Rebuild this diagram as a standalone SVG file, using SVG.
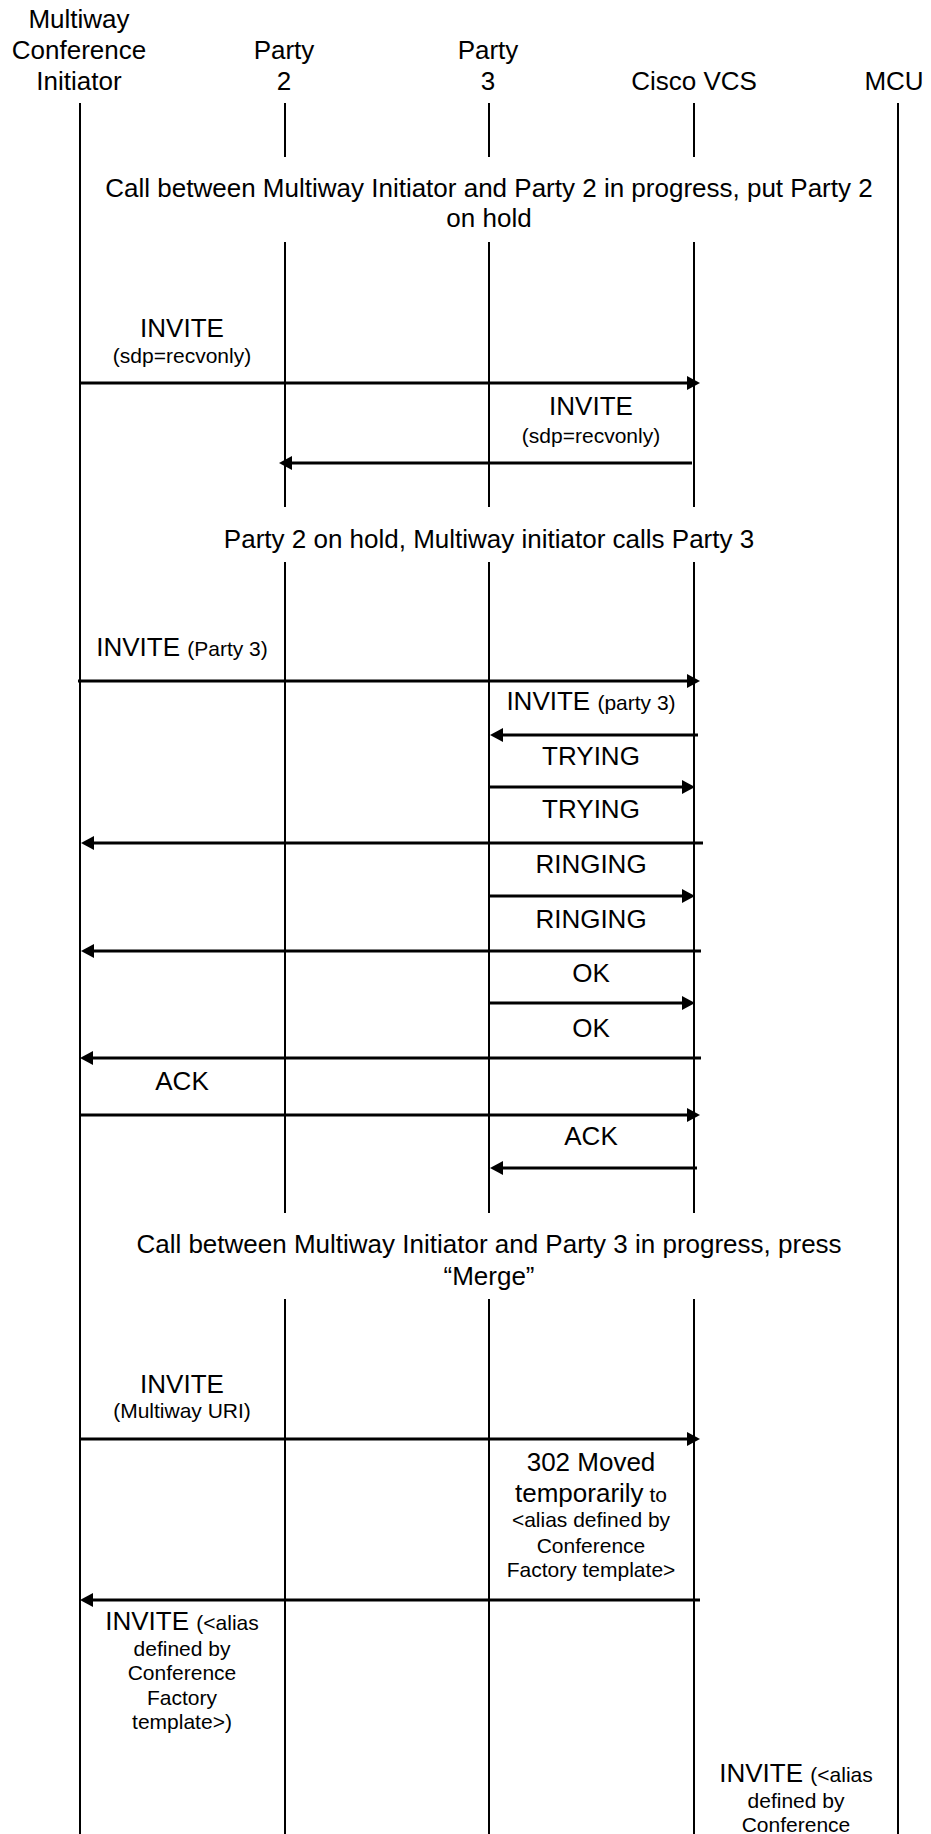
<svg xmlns="http://www.w3.org/2000/svg" width="931" height="1834" viewBox="0 0 931 1834">
<style>
text{font-family:"Liberation Sans",Arial,sans-serif;fill:#000;text-anchor:middle}
.b{font-size:26px}
.s{font-size:21px}
.life{stroke:#000;stroke-width:2;fill:none}
.msg{stroke:#000;stroke-width:3;fill:none;marker-end:url(#ah)}
</style>
<defs>
<marker id="ah" markerUnits="userSpaceOnUse" markerWidth="14" markerHeight="14" refX="3" refY="7" orient="auto">
<path d="M0,0 L13,7 L0,14 z" fill="#000"/>
</marker>
</defs>
<rect width="931" height="1834" fill="#fff"/>
<g id="initiator">
<text class="b" x="79" y="28">Multiway</text>
<text class="b" x="79" y="59">Conference</text>
<text class="b" x="79" y="90">Initiator</text>
<line class="life" x1="80" y1="103" x2="80" y2="1834"/>
</g>
<g id="party2">
<text class="b" x="284" y="59">Party</text>
<text class="b" x="284" y="90">2</text>
<path class="life" d="M285,103V157M285,242V507M285,562V1213M285,1299V1834"/>
</g>
<g id="party3">
<text class="b" x="488" y="59">Party</text>
<text class="b" x="488" y="90">3</text>
<path class="life" d="M489,103V157M489,242V507M489,562V1213M489,1299V1834"/>
</g>
<g id="vcs">
<text class="b" x="694" y="90">Cisco VCS</text>
<path class="life" d="M694,103V157M694,242V507M694,562V1213M694,1299V1834"/>
</g>
<g id="mcu">
<text class="b" x="894" y="90">MCU</text>
<line class="life" x1="898" y1="103" x2="898" y2="1834"/>
</g>
<g id="notes">
<text class="b" x="489" y="197">Call between Multiway Initiator and Party 2 in progress, put Party 2</text>
<text class="b" x="489" y="227">on hold</text>
<text class="b" x="489" y="548">Party 2 on hold, Multiway initiator calls Party 3</text>
<text class="b" x="489" y="1253">Call between Multiway Initiator and Party 3 in progress, press</text>
<text class="b" x="489" y="1285">“Merge”</text>
</g>
<g id="connectors">
<path class="msg" d="M79,383H690"/>
<path class="msg" d="M692,463H289"/>
<path class="msg" d="M78,681H690"/>
<path class="msg" d="M698,735H500"/>
<path class="msg" d="M489,787H685"/>
<path class="msg" d="M703,843H91"/>
<path class="msg" d="M489,896H685"/>
<path class="msg" d="M701,951H91"/>
<path class="msg" d="M489,1003H685"/>
<path class="msg" d="M701,1058H90"/>
<path class="msg" d="M79,1115H690"/>
<path class="msg" d="M697,1168H500"/>
<path class="msg" d="M79,1439H690"/>
<path class="msg" d="M700,1600H90"/>
</g>
<g id="labels">
<text class="b" x="182" y="337">INVITE</text>
<text class="s" x="182" y="363">(sdp=recvonly)</text>
<text class="b" x="591" y="415">INVITE</text>
<text class="s" x="591" y="443">(sdp=recvonly)</text>
<text class="b" x="182" y="656">INVITE <tspan class="s">(Party 3)</tspan></text>
<text class="b" x="591" y="710">INVITE <tspan class="s">(party 3)</tspan></text>
<text class="b" x="591" y="765">TRYING</text>
<text class="b" x="591" y="818">TRYING</text>
<text class="b" x="591" y="873">RINGING</text>
<text class="b" x="591" y="928">RINGING</text>
<text class="b" x="591" y="982">OK</text>
<text class="b" x="591" y="1037">OK</text>
<text class="b" x="182" y="1090">ACK</text>
<text class="b" x="591" y="1145">ACK</text>
<text class="b" x="182" y="1393">INVITE</text>
<text class="s" x="182" y="1418">(Multiway URI)</text>
<text class="b" x="591" y="1471">302 Moved</text>
<text class="b" x="591" y="1502">temporarily<tspan class="s"> to</tspan></text>
<text class="s" x="591" y="1527">&lt;alias defined by</text>
<text class="s" x="591" y="1553">Conference</text>
<text class="s" x="591" y="1577">Factory template&gt;</text>
<text class="b" x="182" y="1630">INVITE <tspan class="s">(&lt;alias</tspan></text>
<text class="s" x="182" y="1656">defined by</text>
<text class="s" x="182" y="1680">Conference</text>
<text class="s" x="182" y="1705">Factory</text>
<text class="s" x="182" y="1729">template&gt;)</text>
<text class="b" x="796" y="1782">INVITE <tspan class="s">(&lt;alias</tspan></text>
<text class="s" x="796" y="1808">defined by</text>
<text class="s" x="796" y="1832">Conference</text>
</g>
</svg>
